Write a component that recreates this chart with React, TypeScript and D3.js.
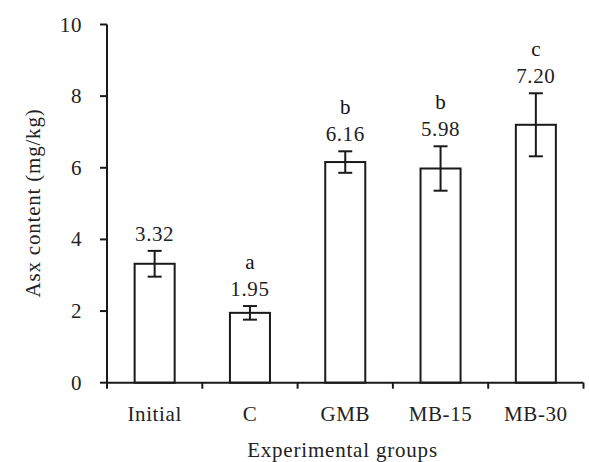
import React from "react";
import * as d3 from "d3";

const categories = ["Initial", "C", "GMB", "MB-15", "MB-30"];
const values = [3.32, 1.95, 6.16, 5.98, 7.2];
const errors = [0.36, 0.19, 0.3, 0.62, 0.88];
const valueLabels = ["3.32", "1.95", "6.16", "5.98", "7.20"];
const letters = ["", "a", "b", "b", "c"];
const yTicks = [0, 2, 4, 6, 8, 10];

const W = 589;
const H = 462;
const FONT = "'Liberation Serif', 'Times New Roman', serif";
const INK = "#1a1a1a";

export default function App() {
  const left = 107;
  const right = 583.5;
  const top = 24.5;
  const bottom = 382.7;

  const y = d3.scaleLinear().domain([0, 10]).range([bottom, top]);
  const x = d3
    .scaleBand<string>()
    .domain(categories)
    .range([left, right])
    .paddingInner(0.58)
    .paddingOuter(0.29);
  const bw = x.bandwidth();
  const step = x.step();
  const boundaries = categories.map((c) => (x(c) as number) + bw / 2 - step / 2);
  boundaries.push(boundaries[boundaries.length - 1] + step);

  return (
    <svg
      width={W}
      height={H}
      style={{ position: "absolute", left: 0, top: 0, background: "#fff" }}
      fontFamily={FONT}
    >
      <rect width={W} height={H} fill="#fff" />
      {/* bars */}
      {categories.map((c, i) => {
        const x0 = x(c) as number;
        const cx = x0 + bw / 2;
        const v = values[i];
        const e = errors[i];
        const yt = y(v + e);
        const yb = y(v - e);
        return (
          <g key={c}>
            <rect
              x={x0}
              y={y(v)}
              width={bw}
              height={bottom - y(v)}
              fill="#fff"
              stroke={INK}
              strokeWidth={2}
            />
            <line x1={cx} x2={cx} y1={yt} y2={yb} stroke={INK} strokeWidth={2} />
            <line x1={cx - 7} x2={cx + 7} y1={yt} y2={yt} stroke={INK} strokeWidth={2} />
            <line x1={cx - 7} x2={cx + 7} y1={yb} y2={yb} stroke={INK} strokeWidth={2} />
            <text
              x={cx}
              y={yt - 17 + 7}
              textAnchor="middle"
              fontSize={21}
              letterSpacing={0.6}
              fill="#222"
            >
              {valueLabels[i]}
            </text>
            {letters[i] && (
              <text
                x={cx}
                y={yt - 17 - 27 + 7}
                textAnchor="middle"
                fontSize={21}
                fill="#111"
              >
                {letters[i]}
              </text>
            )}
            <text
              x={cx}
              y={421}
              textAnchor="middle"
              fontSize={21}
              letterSpacing={0.6}
              fill="#222"
            >
              {c}
            </text>
          </g>
        );
      })}
      {/* y axis */}
      <line x1={left} x2={left} y1={top} y2={bottom} stroke={INK} strokeWidth={2} />
      {yTicks.map((t) => (
        <g key={t}>
          <line x1={left - 7} x2={left} y1={y(t)} y2={y(t)} stroke={INK} strokeWidth={2} />
          <text
            x={82}
            y={y(t) + 7}
            textAnchor="end"
            fontSize={21}
            letterSpacing={0.6}
            fill="#222"
          >
            {t}
          </text>
        </g>
      ))}
      {/* x axis */}
      <line x1={left - 1} x2={right} y1={bottom} y2={bottom} stroke={INK} strokeWidth={2} />
      {boundaries.map((b, i) => (
        <line key={i} x1={b} x2={b} y1={bottom} y2={bottom + 6} stroke={INK} strokeWidth={2} />
      ))}
      <text
        x={342.5}
        y={457}
        textAnchor="middle"
        fontSize={21}
        letterSpacing={0.8}
        fill="#222"
      >
        Experimental groups
      </text>
      <text
        transform={`translate(40, 203) rotate(-90)`}
        textAnchor="middle"
        fontSize={21}
        letterSpacing={0.8}
        fill="#222"
      >
        Asx content (mg/kg)
      </text>
    </svg>
  );
}
